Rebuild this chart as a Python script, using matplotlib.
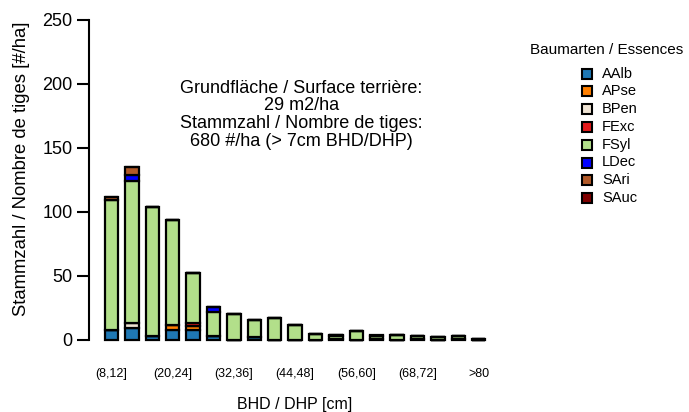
import matplotlib
matplotlib.use("Agg")
import matplotlib.pyplot as plt
from matplotlib.patches import Rectangle
import numpy as np

plt.rcParams['font.family'] = ['Liberation Sans', 'DejaVu Sans']

categories = ["(8,12]", "(12,16]", "(16,20]", "(20,24]", "(24,28]", "(28,32]", "(32,36]",
              "(36,40]", "(40,44]", "(44,48]", "(48,52]", "(52,56]", "(56,60]", "(60,64]",
              "(64,68]", "(68,72]", "(72,76]", "(76,80]", ">80"]
shown_ticks = ["(8,12]", "(20,24]", "(32,36]", "(44,48]", "(56,60]", "(68,72]", ">80"]

species = ["AAlb", "APse", "BPen", "FExc", "FSyl", "LDec", "SAri", "SAuc"]
colors = ["#1F78B4", "#FF7F00", "#EFE3D3", "#E31A1C", "#B2DF8A", "#0000FF", "#B15928", "#7F0000"]

AAlb = [8, 9, 3, 8, 8, 3, 0, 2, 0, 0, 0, 1, 0, 1, 0, 1, 0, 1, 0]
APse = [0, 0, 0, 4, 3, 0, 0, 0, 0, 0, 0, 0, 0, 0, 0, 0, 0, 0, 0]
BPen = [0, 4, 0, 0, 0, 0, 0, 0, 0, 0, 0, 0, 0, 0, 0, 0, 0, 0, 0]
FExc = [0, 0, 0, 0, 2.5, 0, 0, 0, 0, 0, 0, 0, 0, 0, 0, 0, 0, 0, 0]
FSyl = [101, 111, 101, 82, 39, 19, 20, 14, 17, 12, 5, 2, 7, 2, 4, 2, 2, 2, 1]
LDec = [0, 5, 0, 0, 0, 4, 0, 0, 0, 0, 0, 1, 0, 0, 0, 0, 0, 0, 0]
SAri = [3, 6, 0, 0, 0, 0, 0, 0, 0, 0, 0, 0, 0, 0, 0, 0, 0, 0, 0]
SAuc = [0, 0, 0, 0, 0, 0, 0, 0, 0, 0, 0, 0, 0, 1, 0, 0, 0, 0, 0]
values = [AAlb, APse, BPen, FExc, FSyl, LDec, SAri, SAuc]

annotation = "Grundfläche / Surface terrière:\n29 m2/ha\nStammzahl / Nombre de tiges:\n680 #/ha (> 7cm BHD/DHP)"

W, H = 689, 412
fig = plt.figure(figsize=(W / 100, H / 100), dpi=100)
ax = fig.add_axes([89 / W, (H - 340) / H, 412 / W, 320 / H])

x = np.arange(len(categories))
bottom = np.zeros(len(categories))
for sp, col, vals in zip(species, colors, values):
    v = np.array(vals, dtype=float)
    ax.bar(x, v, bottom=bottom, width=0.66, color=col, edgecolor="black",
           linewidth=1.6, label=sp, clip_on=False)
    bottom += v

ax.set_xlim(-1.10, 19.09)
ax.set_ylim(0, 250)
for s in ["top", "right", "bottom"]:
    ax.spines[s].set_visible(False)
ax.spines["left"].set_bounds(0, 250)
ax.spines["left"].set_linewidth(1.5)
ax.set_yticks(np.arange(0, 251, 50))
ax.tick_params(axis="y", length=8.5, width=1.5, pad=3.3, labelsize=13)
tick_pos = [categories.index(t) for t in shown_ticks]
ax.set_xticks(tick_pos)
ax.set_xticklabels(shown_ticks)
ax.tick_params(axis="x", length=0, pad=20, labelsize=9)

ax.text(9.3, 176, annotation, ha="center", va="center", fontsize=13,
        linespacing=1.04, multialignment="center")

fig.text(22 / W, 1 - 169 / H, "Stammzahl / Nombre de tiges [#/ha]", rotation=90,
         ha="center", va="center", fontsize=13.3)
fig.text(295 / W, 1 - 405 / H, "BHD / DHP [cm]", ha="center", va="center", fontsize=11.5)

# legend
fig.text(607 / W, 1 - 50 / H, "Baumarten / Essences", ha="center", va="center", fontsize=11)
for i, (sp, col) in enumerate(zip(species, colors)):
    yc = 73.5 + i * 17.8
    fig.patches.append(Rectangle(((582) / W, 1 - (yc + 5) / H), 10 / W, 10 / H,
                                 transform=fig.transFigure, facecolor=col,
                                 edgecolor="black", linewidth=1.5))
    fig.text(602 / W, 1 - yc / H, sp, ha="left", va="center", fontsize=10.5)

fig.savefig("out.png", dpi=100)
